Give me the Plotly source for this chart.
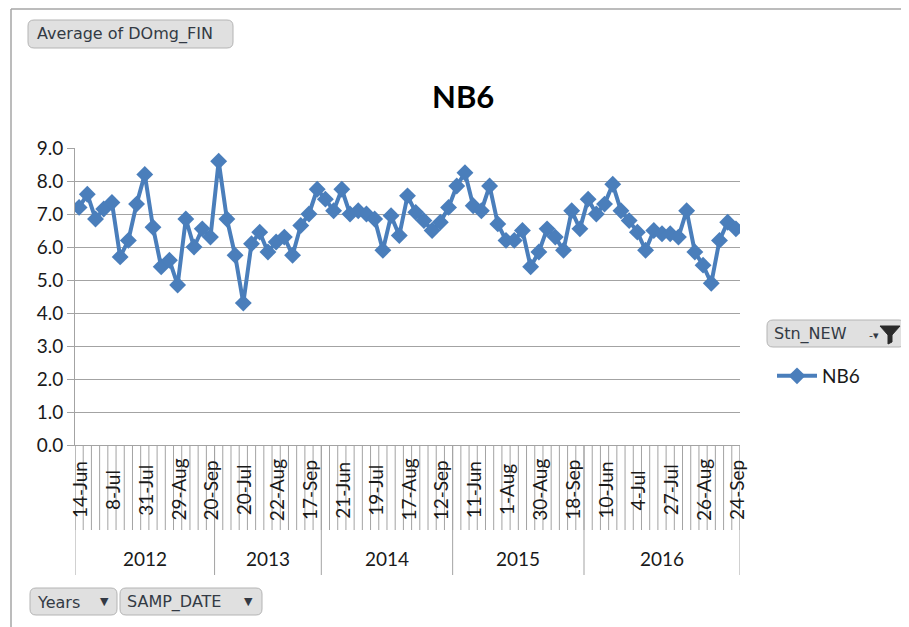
import plotly.graph_objects as go

# ---------------- data ----------------
year_labels = ["2012", "2013", "2014", "2015", "2016"]

dates_2012 = ["14-Jun", "20-Jun", "26-Jun", "2-Jul", "8-Jul", "13-Jul", "19-Jul", "25-Jul",
              "31-Jul", "7-Aug", "14-Aug", "21-Aug", "29-Aug", "4-Sep", "10-Sep", "15-Sep",
              "20-Sep"]
dates_2013 = ["2-Jul", "8-Jul", "14-Jul", "20-Jul", "28-Jul", "5-Aug", "14-Aug", "22-Aug",
              "28-Aug", "4-Sep", "10-Sep", "17-Sep", "24-Sep"]
dates_2014 = ["7-Jun", "14-Jun", "21-Jun", "28-Jun", "5-Jul", "12-Jul", "19-Jul", "26-Jul",
              "2-Aug", "10-Aug", "17-Aug", "24-Aug", "30-Aug", "6-Sep", "12-Sep", "19-Sep"]
dates_2015 = ["28-May", "4-Jun", "11-Jun", "24-Jun", "8-Jul", "21-Jul", "1-Aug", "8-Aug",
              "15-Aug", "22-Aug", "30-Aug", "4-Sep", "9-Sep", "14-Sep", "18-Sep", "25-Sep"]
dates_2016 = ["27-May", "3-Jun", "10-Jun", "16-Jun", "22-Jun", "28-Jun", "4-Jul", "10-Jul",
              "16-Jul", "21-Jul", "27-Jul", "4-Aug", "12-Aug", "19-Aug", "26-Aug", "3-Sep",
              "10-Sep", "17-Sep", "24-Sep"]
dates_by_year = [dates_2012, dates_2013, dates_2014, dates_2015, dates_2016]

nb6_values = [
    7.2, 7.6, 6.85, 7.15, 7.35, 5.7, 6.2, 7.3, 8.2, 6.6, 5.4, 5.6, 4.85, 6.85, 6.0, 6.55, 6.3,
    8.6, 6.85, 5.75, 4.3, 6.1, 6.45, 5.85, 6.15, 6.3, 5.75, 6.65, 7.0, 7.75,
    7.45, 7.1, 7.75, 7.0, 7.1, 7.0, 6.85, 5.9, 6.95, 6.35, 7.55, 7.05, 6.8, 6.5, 6.75, 7.2,
    7.85, 8.25, 7.25, 7.1, 7.85, 6.7, 6.2, 6.2, 6.5, 5.4, 5.85, 6.55, 6.3, 5.9, 7.1, 6.55,
    7.45, 7.0, 7.3, 7.9, 7.1, 6.8, 6.45, 5.9, 6.5, 6.4, 6.4, 6.3, 7.1, 5.85, 5.45, 4.9,
    6.2, 6.75, 6.55,
]

y_ticks = [0, 1, 2, 3, 4, 5, 6, 7, 8, 9]
label_every = 4

# ---------------- derived ----------------
all_dates = [d for ds in dates_by_year for d in ds]
n = len(all_dates)
xs = list(range(n))

# page offset of the figure (browser body margin)
OFF = 8
W, H = 909 - OFF, 627 - OFF
# plot area edges in screen pixels
PL, PR, PT, PB = 75, 740, 148, 445


def px2x(px):
    return (px - PL) / (PR - PL)


def px2y(py):
    return (PB - py) / (PB - PT)


BLUE = "#4a7ebb"
GRID = "#a3a3a3"
TXT = "#1a1a1a"
FONT = "Lato"
BTN_FONT = "DejaVu Sans"

fig = go.Figure()
fig.add_trace(go.Scatter(
    x=xs, y=nb6_values, mode="lines+markers", name="NB6",
    line=dict(color=BLUE, width=4),
    marker=dict(symbol="diamond", size=13, color=BLUE),
))

shapes = []
annotations = []

# category separator lines
for i in range(n + 1):
    shapes.append(dict(type="line", xref="x", yref="paper", x0=i - 0.5, x1=i - 0.5,
                       y0=0, y1=px2y(530), line=dict(color=GRID, width=1)))

# year dividers and year labels
start = 0
shapes.append(dict(type="line", xref="x", yref="paper", x0=-0.5, x1=-0.5,
                   y0=0, y1=px2y(575), line=dict(color=GRID, width=1)))
for yl, ds in zip(year_labels, dates_by_year):
    end = start + len(ds)
    shapes.append(dict(type="line", xref="x", yref="paper", x0=end - 0.5, x1=end - 0.5,
                       y0=0, y1=px2y(575), line=dict(color=GRID, width=1)))
    annotations.append(dict(x=(start + end - 1) / 2, y=px2y(558), xref="x", yref="paper",
                            text=yl, showarrow=False, xanchor="center", yanchor="middle",
                            font=dict(family=FONT, size=19, color=TXT)))
    start = end

# rotated date labels
for i in range(0, n, label_every):
    annotations.append(dict(x=i, y=px2y(490), xref="x", yref="paper", text=all_dates[i],
                            textangle=-90, showarrow=False, xanchor="center", yanchor="middle",
                            font=dict(family=FONT, size=19, color=TXT)))

# title
annotations.append(dict(x=px2x(463), y=px2y(96), xref="paper", yref="paper", text="<b>NB6</b>",
                        showarrow=False, xanchor="center", yanchor="middle",
                        font=dict(family=FONT, size=31, color="#000000")))

# chart frame (top + left)
shapes.append(dict(type="line", xref="paper", yref="paper", x0=px2x(11), x1=px2x(920),
                   y0=px2y(9), y1=px2y(9), line=dict(color="#a6a6a6", width=1.5)))
shapes.append(dict(type="line", xref="paper", yref="paper", x0=px2x(11), x1=px2x(11),
                   y0=px2y(9), y1=px2y(640), line=dict(color="#a6a6a6", width=1.5)))


def rounded_button(x0, y0, x1, y1, r=6):
    p = (f"M {px2x(x0 + r)},{px2y(y0)} L {px2x(x1 - r)},{px2y(y0)} "
         f"Q {px2x(x1)},{px2y(y0)} {px2x(x1)},{px2y(y0 + r)} "
         f"L {px2x(x1)},{px2y(y1 - r)} Q {px2x(x1)},{px2y(y1)} {px2x(x1 - r)},{px2y(y1)} "
         f"L {px2x(x0 + r)},{px2y(y1)} Q {px2x(x0)},{px2y(y1)} {px2x(x0)},{px2y(y1 - r)} "
         f"L {px2x(x0)},{px2y(y0 + r)} Q {px2x(x0)},{px2y(y0)} {px2x(x0 + r)},{px2y(y0)} Z")
    shapes.append(dict(type="path", xref="paper", yref="paper", path=p,
                       fillcolor="#e0e0e0", line=dict(color="#b4b4b4", width=1)))


def btn_text(x, y, text, size=16, anchor="left"):
    annotations.append(dict(x=px2x(x), y=px2y(y), xref="paper", yref="paper", text=text,
                            showarrow=False, xanchor=anchor, yanchor="middle",
                            font=dict(family=BTN_FONT, size=size, color="#333a44")))


rounded_button(28, 20, 233, 48)
btn_text(35, 34, "Average of DOmg_FIN")

rounded_button(30, 588, 117, 615)
btn_text(35, 602, "Years")
btn_text(104, 601, "▼", size=11, anchor="center")

rounded_button(120, 588, 262, 615)
btn_text(125, 602, "SAMP_DATE")
btn_text(248, 601, "▼", size=11, anchor="center")

rounded_button(767, 320, 905, 347)
btn_text(772, 334, "Stn_NEW")
btn_text(874, 335, "-▾", size=11, anchor="center")
funnel = (f"M {px2x(880)},{px2y(326)} L {px2x(900)},{px2y(326)} L {px2x(892)},{px2y(335)} "
          f"L {px2x(892)},{px2y(342)} L {px2x(888)},{px2y(344)} L {px2x(888)},{px2y(335)} Z")
shapes.append(dict(type="path", xref="paper", yref="paper", path=funnel,
                   fillcolor="#2a2a2a", line=dict(color="#2a2a2a", width=1)))

fig.update_layout(
    width=W, height=H, autosize=False,
    margin=dict(l=PL - OFF, r=W - (PR - OFF), t=PT - OFF, b=H - (PB - OFF), autoexpand=False),
    paper_bgcolor="white", plot_bgcolor="white",
    showlegend=True,
    legend=dict(x=px2x(772), y=px2y(357), xanchor="left", yanchor="top",
                font=dict(family=FONT, size=19, color=TXT), bgcolor="rgba(0,0,0,0)",
                itemwidth=40),
    xaxis=dict(range=[-0.5, n - 0.5], showticklabels=False, ticks="", showgrid=False,
               zeroline=False, showline=True, linecolor=GRID, linewidth=1, fixedrange=True),
    yaxis=dict(range=[0, 9], tickvals=y_ticks, tickformat=".1f", ticks="outside", ticklen=7,
               tickcolor=GRID, showgrid=True, gridcolor=GRID, gridwidth=1, zeroline=False,
               showline=True, linecolor=GRID, linewidth=1,
               tickfont=dict(family=FONT, size=19, color=TXT), fixedrange=True),
    shapes=shapes,
    annotations=annotations,
)

fig.write_html("out.html")
